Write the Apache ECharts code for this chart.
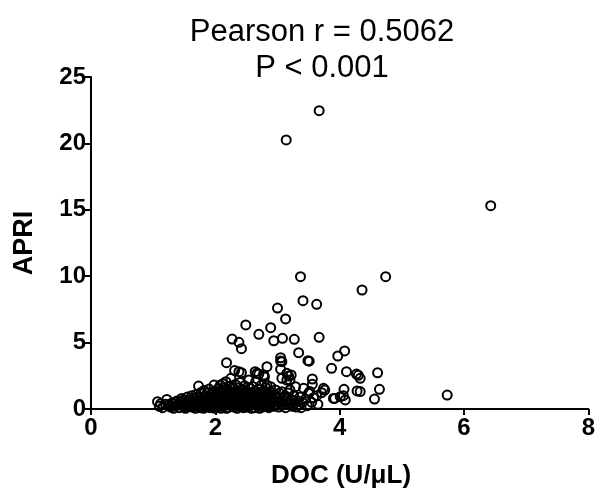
<!DOCTYPE html>
<html>
<head>
<meta charset="utf-8">
<script src="https://cdn.jsdelivr.net/npm/echarts@6/dist/echarts.min.js"></script>
<style>html,body{margin:0;padding:0;background:#fff;}#c{width:598px;height:491px;}</style>
</head>
<body>
<div id="c"></div>
<script>
const titleLines = ['Pearson r = 0.5062', 'P < 0.001'];
const xName = 'DOC (U/\u03bcL)';
const yName = 'APRI';
const xTicks = [0, 2, 4, 6, 8];
const yTicks = [0, 5, 10, 15, 20, 25];

// Outlying / upper points
const docHigh = [3.67,3.14,6.43,3.37,4.74,4.36,3.41,3.63,3.00,3.13,2.49,2.89,2.70,3.67,3.08,2.27,3.27,2.94,2.38,2.42,4.08,3.34,3.97,3.05,3.49,3.51,3.05,3.07,2.18,2.83,3.87,3.05,2.31,2.38,4.11,2.64,2.42,4.61,2.67,3.15,2.70,4.27,3.22,4.30,2.78,3.18,2.79,4.33,3.07,3.56,3.20,3.15,3.56,3.74,3.76,4.07,4.64,4.28,4.33,3.71,4.06,4.01,3.90,3.92,4.09,4.56,5.73,3.63];
const apriHigh = [22.46,20.26,15.31,9.96,9.96,8.96,8.16,7.88,7.60,6.78,6.33,6.12,5.62,5.40,5.32,5.27,5.25,5.14,5.02,4.54,4.37,4.24,3.99,3.86,3.64,3.60,3.61,3.56,3.49,3.19,3.06,2.99,2.89,2.81,2.81,2.81,2.73,2.73,2.69,2.69,2.64,2.63,2.56,2.54,2.56,2.48,2.41,2.31,2.31,2.26,2.18,2.18,1.86,1.56,1.43,1.48,1.48,1.36,1.31,1.23,1.00,0.93,0.80,0.80,0.68,0.75,1.05,1.00];

// Dense low cluster
const docLow = [
1.07,1.10,1.15,1.22,1.25,1.28,1.30,1.33,1.36,1.38,1.40,1.12,
1.42,1.44,1.46,1.48,1.50,1.52,1.53,1.55,1.57,1.58,1.60,1.62,1.63,1.64,1.66,1.67,1.68,1.69,1.70,
1.72,1.73,1.74,1.75,1.76,1.77,1.78,1.80,1.81,1.82,1.83,1.84,1.85,1.86,1.87,1.88,1.89,1.90,1.91,1.92,1.93,1.94,1.95,1.96,1.97,1.98,1.99,
2.00,2.01,2.02,2.03,2.04,2.05,2.06,2.07,2.08,2.09,2.10,2.11,2.12,2.13,2.14,2.15,2.16,2.17,2.18,2.19,2.20,2.21,2.22,2.23,2.24,2.25,2.26,2.27,2.28,2.29,2.30,
2.02,2.06,2.10,2.14,2.18,2.22,2.26,2.30,2.08,2.16,
2.31,2.32,2.33,2.34,2.35,2.36,2.37,2.38,2.39,2.40,2.41,2.42,2.43,2.44,2.45,2.46,2.47,2.48,2.49,2.50,2.51,2.52,2.53,2.54,2.55,2.56,2.57,2.58,2.59,2.60,
2.34,2.38,2.42,2.46,2.50,2.54,2.58,
2.61,2.62,2.63,2.64,2.65,2.66,2.67,2.68,2.69,2.70,2.71,2.72,2.73,2.74,2.75,2.76,2.77,2.78,2.79,2.80,2.81,2.82,2.83,2.84,2.85,2.86,2.87,2.88,2.89,2.90,
2.92,2.94,2.95,2.97,2.98,3.00,3.02,3.03,3.05,3.07,3.08,3.10,3.12,3.13,3.15,3.17,3.18,3.20,3.22,3.24,3.26,3.28,3.29,3.30,
3.33,3.34,3.36,3.38,3.40,3.42,3.45,3.48,3.50,3.52,3.55,3.58,3.65,
1.95,2.05,2.15,2.25,2.35,2.45,2.55,2.65,1.85,1.75,2.75,2.85];
const apriLow = [
0.55,0.20,0.10,0.72,0.30,0.15,0.45,0.05,0.25,0.60,0.35,0.40,
0.10,0.50,0.80,0.25,0.60,0.05,0.40,0.90,0.20,0.70,0.35,1.00,0.15,0.55,0.80,0.30,0.05,1.10,0.45,
0.20,1.73,0.65,0.90,0.10,1.25,0.40,0.75,0.05,1.40,0.30,1.00,0.55,0.15,1.20,0.80,0.35,1.50,0.60,0.10,1.05,0.45,0.25,1.30,0.70,1.80,0.05,
0.40,0.90,1.20,0.15,0.60,1.55,0.30,1.00,0.75,0.05,1.35,0.50,1.90,0.20,0.85,1.15,0.35,2.06,0.65,1.45,0.10,0.95,1.70,0.45,1.25,2.31,0.25,0.80,1.60,0.55,1.05,
0.50,0.80,0.20,1.60,0.05,0.30,1.00,0.15,1.80,1.30,
0.30,1.85,0.70,1.30,0.05,1.00,0.50,1.60,0.20,2.00,0.85,1.15,0.40,1.45,0.10,0.65,1.75,0.30,1.05,0.55,1.30,0.15,0.90,2.18,0.40,1.55,0.75,0.05,1.20,1.70,
0.45,0.90,0.25,1.20,0.80,0.20,1.00,
0.35,0.90,1.35,0.10,2.06,0.60,1.10,0.25,1.50,0.80,0.05,1.25,0.45,1.80,0.70,0.15,1.00,1.40,0.35,0.85,1.60,0.20,1.80,0.55,1.15,0.10,0.90,1.30,1.68,0.40,
0.75,0.20,1.10,1.43,0.50,0.90,0.15,1.20,0.60,1.30,0.30,0.85,1.00,0.10,0.55,1.20,0.35,1.43,0.70,0.20,1.00,0.45,1.68,0.15,
0.60,0.30,0.90,0.10,0.50,1.56,0.75,0.25,1.18,1.31,0.50,0.85,0.35,
0.50,0.70,0.40,0.60,0.30,0.95,0.60,0.50,0.65,0.45,0.40,0.30];

// Extra points filling the darkest part of the cluster
const docCore = [1.45,1.50,1.55,1.60,1.65,1.70,1.75,1.80,1.85,1.90,1.95,2.00,2.05,2.10,2.15,2.20,2.25,2.30,2.35,2.40,2.45,2.50,2.55,2.60,2.65,2.70,2.75,2.80,2.85,2.90,
1.58,1.68,1.78,1.88,1.98,2.08,2.18,2.28,2.38,2.48,2.58,2.68,2.78,2.88,1.62,1.72,1.82,1.92,2.02,2.12,2.22,2.32,2.42,2.52,2.62,2.72,2.82,2.96,3.06,3.16,3.26,1.35,1.30,1.20,1.48];
const apriCore = [0.30,0.15,0.50,0.70,0.20,0.85,0.35,0.55,0.95,0.25,0.75,1.10,0.20,0.70,0.50,1.25,0.60,0.90,0.25,0.70,1.00,0.30,0.90,0.50,0.80,1.10,0.30,0.60,0.40,1.00,
0.45,0.60,0.15,0.50,0.30,0.45,0.85,0.35,0.60,0.15,0.45,0.35,0.80,0.20,0.25,0.50,0.20,0.85,0.65,1.05,0.70,0.50,1.35,0.65,1.15,0.60,1.20,0.30,0.45,0.80,0.60,0.50,0.20,0.35,0.65];

const pts = [];
docHigh.forEach((x, i) => pts.push([x, apriHigh[i]]));
docLow.forEach((x, i) => pts.push([x, apriLow[i]]));
docCore.forEach((x, i) => pts.push([x, apriCore[i]]));

const FONT = "'Liberation Sans', Arial, Helvetica, sans-serif";
const chart = echarts.init(document.getElementById('c'), null, {renderer: 'canvas'});
chart.setOption({
  animation: false,
  backgroundColor: '#ffffff',
  title: {
    text: titleLines.join('\n'),
    left: 317, top: 9, textAlign: 'center',
    textStyle: {fontFamily: FONT, fontSize: 31, fontWeight: 'normal', color: '#000', lineHeight: 36}
  },
  grid: {left: 91, right: 6, top: 77, bottom: 82, containLabel: false},
  xAxis: {
    type: 'value', min: xTicks[0], max: xTicks[xTicks.length - 1], interval: 2,
    axisLine: {show: true, onZero: false, lineStyle: {color: '#000', width: 2}},
    axisTick: {show: true, length: 6, lineStyle: {color: '#000', width: 2}},
    axisLabel: {fontFamily: FONT, fontSize: 24, fontWeight: 'bold', color: '#000', margin: 7},
    splitLine: {show: false}
  },
  yAxis: {
    type: 'value', min: yTicks[0], max: yTicks[yTicks.length - 1], interval: 5,
    axisLine: {show: true, onZero: false, lineStyle: {color: '#000', width: 2}},
    axisTick: {show: true, length: 6, lineStyle: {color: '#000', width: 2}},
    axisLabel: {fontFamily: FONT, fontSize: 24, fontWeight: 'bold', color: '#000', margin: 5},
    splitLine: {show: false}
  },
  graphic: [
    {type: 'text', x: 25, y: 243, rotation: Math.PI / 2,
     style: {text: yName, x: 0, y: 0, align: 'center', verticalAlign: 'middle', textAlign: 'center', textVerticalAlign: 'middle',
             font: "bold 27px 'Liberation Sans', Arial, sans-serif", fill: '#000'}},
    {type: 'text', x: 341, y: 476,
     style: {text: xName, x: 0, y: 0, align: 'center', verticalAlign: 'middle', textAlign: 'center', textVerticalAlign: 'middle',
             font: "bold 26px 'Liberation Sans', Arial, sans-serif", fill: '#000'}}
  ],
  series: [{
    type: 'scatter',
    data: pts,
    symbol: 'circle',
    symbolSize: 9,
    clip: false,
    itemStyle: {color: 'rgba(0,0,0,0)', borderColor: '#000', borderWidth: 2, opacity: 1}
  }]
});
</script>
</body>
</html>
